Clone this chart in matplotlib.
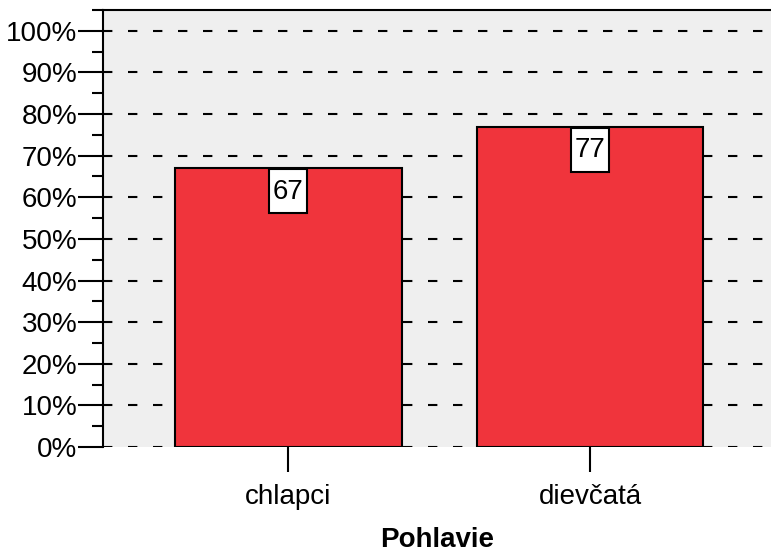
import matplotlib
matplotlib.use("Agg")
import matplotlib.pyplot as plt
from matplotlib.ticker import MultipleLocator, FuncFormatter
from matplotlib.patches import Rectangle
from matplotlib.transforms import ScaledTranslation

categories = ["chlapci", "dievčatá"]
values = [67, 77]
labels = ["67", "77"]
xlabel = "Pohlavie"

plt.rcParams['font.family'] = ['Liberation Sans', 'DejaVu Sans']

fig = plt.figure(figsize=(7.71, 5.55), dpi=100)
ax = fig.add_axes([103/771, 1-447/555, 1-103/771, (447-10)/555])
ax.set_facecolor('#EFEFEF')

x = list(range(len(categories)))
ax.bar(x, values, width=0.75, color='#F0343C', edgecolor='black', linewidth=1.5, zorder=3)

for xi, v, lab in zip(x, values, labels):
    tr = fig.dpi_scale_trans + ScaledTranslation(xi, v, ax.transData)
    ax.add_patch(Rectangle((-0.19, -0.45), 0.38, 0.44, transform=tr,
                           fc='white', ec='black', lw=1.5, zorder=5, clip_on=False))
    ax.text(0, -0.235, lab, transform=tr, ha='center', va='center',
            fontsize=20, zorder=6)

ax.set_xlim(-0.615, 1.6)
ax.set_ylim(0, 105)
ax.yaxis.set_major_locator(MultipleLocator(10))
ax.yaxis.set_minor_locator(MultipleLocator(5))
ax.yaxis.set_major_formatter(FuncFormatter(lambda v, p: f"{int(round(v))}%"))
ax.set_xticks(x)
ax.set_xticklabels(categories)

ax.grid(axis='y', which='major', color='black', linestyle=(0, (4.5, 7.5)), linewidth=1.5, zorder=1)

for s in ['right', 'bottom']:
    ax.spines[s].set_visible(False)
for s in ['left', 'top']:
    ax.spines[s].set_linewidth(1.5)

ax.tick_params(axis='y', which='major', length=18, width=1.5, labelsize=20, pad=0.5, direction='out')
ax.tick_params(axis='y', which='minor', length=8, width=1.5, direction='out')
ax.tick_params(axis='x', which='major', length=18, width=1.5, labelsize=20, pad=9, direction='out')

ax.set_xlabel(xlabel, fontsize=20, fontweight='bold', labelpad=12)

fig.savefig("out.png", dpi=100)
